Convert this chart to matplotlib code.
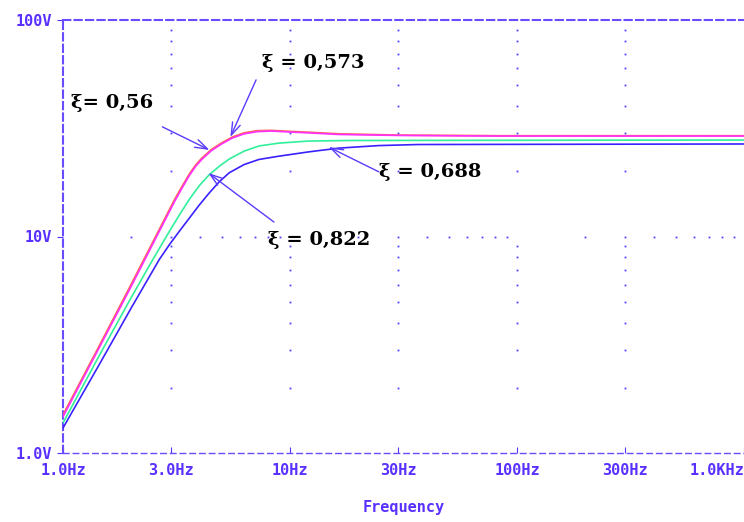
import numpy as np
import matplotlib.pyplot as plt

# values (frequency in Hz, output in V)
freq_mag = [1.0, 1.45, 1.97, 2.61, 3.10, 3.33, 3.61, 3.83, 4.07, 4.50, 4.98, 5.57,
            6.28, 7.17, 8.26, 9.9, 12.1, 16.4, 30, 82, 1000]
v_mag = [1.47, 3.09, 5.72, 10.2, 14.5, 16.6, 19.2, 21.0, 22.6, 24.9, 26.7, 28.5,
         29.8, 30.5, 30.7, 30.4, 30.1, 29.6, 29.3, 29.1, 29.1]

freq_red = freq_mag
v_red = [1.50, 3.15, 5.85, 10.4, 14.8, 16.9, 19.5, 21.3, 22.9, 25.2, 27.0, 28.8,
         30.1, 30.8, 30.9, 30.6, 30.3, 29.8, 29.4, 29.2, 29.2]

freq_green = [1.0, 1.45, 1.97, 2.41, 2.86, 3.26, 3.61, 3.99, 4.41, 4.88, 5.40,
              6.28, 7.31, 8.95, 12.1, 18.2, 1000]
v_green = [1.376, 2.84, 5.09, 7.39, 10.05, 12.6, 14.9, 17.2, 19.3, 21.1, 22.8,
           24.8, 26.2, 27.0, 27.6, 27.76, 27.9]

freq_blue = [1.0, 1.45, 2.01, 2.66, 2.95, 3.26, 3.99, 4.41, 4.88, 5.40, 6.28,
             7.31, 8.95, 12.1, 16.4, 24.6, 36.8, 1000]
v_blue = [1.305, 2.58, 4.73, 7.85, 9.2, 10.6, 14.0, 15.9, 17.9, 19.7, 21.5,
          22.7, 23.5, 24.6, 25.6, 26.3, 26.6, 26.75]

xticks = [1, 3, 10, 30, 100, 300, 1000]
xlabels = ["1.0Hz", "3.0Hz", "10Hz", "30Hz", "100Hz", "300Hz", "1.0KHz"]
yticks = [1, 10, 100]
ylabels = ["1.0V", "10V", "100V"]

axis_col = "#5a30ff"
mono = "DejaVu Sans Mono"

fig = plt.figure(figsize=(7.44, 5.22), dpi=100)
ax = fig.add_axes([63 / 744, 69 / 522, 681 / 744, 433 / 522])
ax.set_xscale("log")
ax.set_yscale("log")
ax.set_xlim(1, 1000)
ax.set_ylim(1, 100)

# dotted grid: dots on major lines at the minor positions
minors_y = [k * 10 ** d for d in range(2) for k in range(2, 10)]
minors_x = [k * 10 ** d for d in range(3) for k in range(2, 10)]
for xv in xticks[1:-1]:
    ax.plot([xv] * len(minors_y), minors_y, ls="none", marker="s", ms=1.3,
            mec="none", mfc="#5040ff", zorder=1)
ax.plot(minors_x, [10] * len(minors_x), ls="none", marker="s", ms=1.3,
        mec="none", mfc="#5040ff", zorder=1)

ax.plot(freq_red, v_red, color="#ff6a50", lw=1.3, zorder=3)
ax.plot(freq_mag, v_mag, color="#ff30ff", lw=1.2, zorder=4)
ax.plot(freq_green, v_green, color="#30f09a", lw=1.2, zorder=3)
ax.plot(freq_blue, v_blue, color="#3a22ff", lw=1.2, zorder=3)

for s in ax.spines.values():
    s.set_color("#6a4cff")
    s.set_linewidth(1.5)
    s.set_linestyle((0, (3.5, 2)))
ax.spines["bottom"].set_linewidth(1.0)
ax.spines["bottom"].set_linestyle((0, (4, 3)))
ax.spines["right"].set_visible(False)

ax.xaxis.set_minor_locator(plt.NullLocator())
ax.yaxis.set_minor_locator(plt.NullLocator())
ax.set_xticks(xticks)
ax.set_xticklabels(xlabels)
ax.set_yticks(yticks)
ax.set_yticklabels(ylabels)
ax.tick_params(axis="x", direction="in", length=4, color=axis_col, pad=7,
               labelsize=11, labelcolor=axis_col)
ax.tick_params(axis="y", direction="out", length=4, color=axis_col, pad=4,
               labelsize=11, labelcolor=axis_col)
for lab in ax.get_xticklabels() + ax.get_yticklabels():
    lab.set_family(mono)
    lab.set_weight("bold")
ax.get_xticklabels()[-1].set_ha("right")
ax.set_xlabel("Frequency", family=mono, weight="bold", fontsize=11,
              color=axis_col, labelpad=16)

# damping ratio labels
arrow = dict(arrowstyle="->,head_length=0.9,head_width=0.3", color="#5a3cff",
             lw=1.0, shrinkA=0, shrinkB=0)
tkw = dict(family="DejaVu Serif", weight="bold", fontsize=14, color="black",
           ha="center", va="center")
ax.text(1.64, 41.3, "ξ= 0,56", **tkw)
ax.annotate("", xy=(4.42, 25.1), xytext=(2.74, 32.1), arrowprops=arrow)
ax.text(12.7, 63.1, "ξ = 0,573", **tkw)
ax.annotate("", xy=(5.46, 28.8), xytext=(7.09, 52.9), arrowprops=arrow)
ax.text(41.6, 19.9, "ξ = 0,688", **tkw)
ax.annotate("", xy=(14.8, 25.9), xytext=(24.6, 19.9), arrowprops=arrow)
ax.text(13.4, 9.61, "ξ = 0,822", **tkw)
ax.annotate("", xy=(4.37, 19.65), xytext=(8.5, 11.66), arrowprops=arrow)

fig.savefig("out.png", dpi=100)
